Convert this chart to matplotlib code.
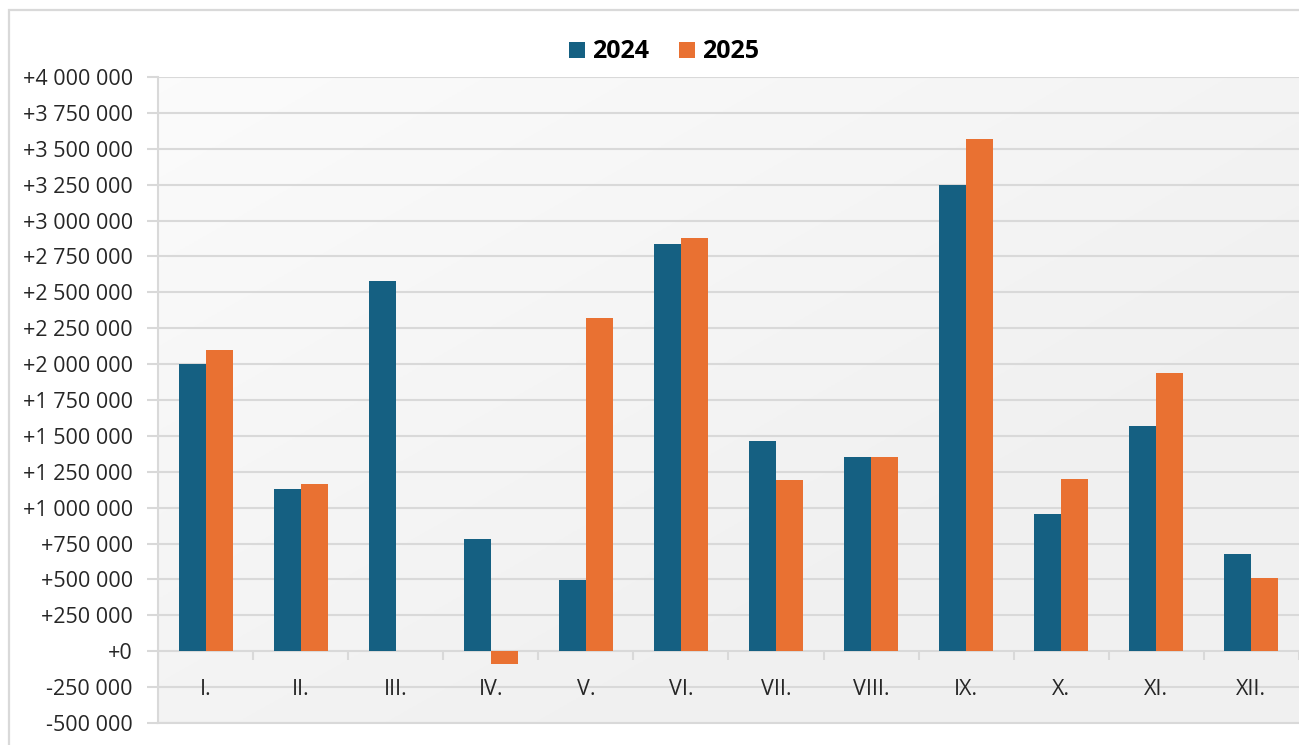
import matplotlib
matplotlib.use("Agg")
import matplotlib.pyplot as plt
import matplotlib.patches as mpatches
from matplotlib.ticker import FuncFormatter, MultipleLocator
import numpy as np

plt.rcParams['font.family'] = ['Open Sans', 'DejaVu Sans']

months = ["I.", "II.", "III.", "IV.", "V.", "VI.", "VII.", "VIII.", "IX.", "X.", "XI.", "XII."]
series_names = ["2024", "2025"]
values_2024 = [2000000, 1128000, 2577000, 780000, 494000, 2834000, 1462000, 1351000, 3245000, 954000, 1567000, 675000]
values_2025 = [2096000, 1163000, 0, -90000, 2319000, 2876000, 1191000, 1351000, 3565000, 1198000, 1936000, 508000]
colors = ["#156082", "#E97132"]

W, H = 1299, 745
fig = plt.figure(figsize=(W / 100, H / 100), dpi=100)
fig.patch.set_facecolor("white")

# outer chart border
fig.patches.append(mpatches.Rectangle((9 / W, -0.1), 1.2, 1 - 10 / H + 0.1, transform=fig.transFigure,
                                      fill=False, edgecolor="#d9d9d9", linewidth=1.6, zorder=0))

left, right, top, bottom = 158, 1299, 77, 723
ax = fig.add_axes([left / W, 1 - bottom / H, (right - left) / W, (bottom - top) / H])

# subtle gradient background
grad = np.linspace(0, 1, 256)
gx, gy = np.meshgrid(grad, grad)
g = 0.5 * gx + 0.5 * gy
img = np.empty((256, 256, 3))
c0 = np.array([0.985, 0.985, 0.985])
c1 = np.array([0.945, 0.945, 0.945])
for k in range(3):
    img[..., k] = c0[k] + (c1[k] - c0[k]) * np.clip(g * 1.5, 0, 1)
ax.imshow(img, extent=[0, 1, 0, 1], transform=ax.transAxes, aspect="auto", zorder=0, origin="upper")

x = np.arange(len(months))
bw = 0.284
ax.bar(x - bw / 2, values_2024, width=bw, color=colors[0], label=series_names[0], zorder=3)
ax.bar(x + bw / 2, values_2025, width=bw, color=colors[1], label=series_names[1], zorder=3)

ax.set_xlim(-0.5, len(months) - 0.5)
ax.set_ylim(-500000, 4000000)
ax.yaxis.set_major_locator(MultipleLocator(250000))


def fmt(v, pos):
    s = f"{abs(int(round(v))):,}".replace(",", " ")
    return ("+" if v >= 0 else "-") + s


ax.yaxis.set_major_formatter(FuncFormatter(fmt))
ax.grid(axis="y", color="#d9d9d9", linewidth=1.5, zorder=1)
ax.set_axisbelow(True)
ax.xaxis.set_zorder(1.5)
ax.tick_params(axis="y", length=8, width=1.5, color="#d9d9d9", pad=10, labelsize=15.5, labelcolor="#262626")

# category boundary ticks below zero line
bounds = np.arange(len(months) + 1) - 0.5
ax.vlines(bounds, -62000, 0, color="#d9d9d9", linewidth=1.5, zorder=2)

ax.set_xticks(x)
ax.set_xticklabels(months)
ax.tick_params(axis="x", length=0, pad=-32, labelsize=15.5, labelcolor="#262626")

for s in ["top", "right"]:
    ax.spines[s].set_visible(False)
ax.spines["left"].set_color("#d9d9d9")
ax.spines["left"].set_linewidth(1.5)
ax.spines["bottom"].set_color("#d9d9d9")
ax.spines["bottom"].set_linewidth(1.5)

leg = fig.legend(loc="center", bbox_to_anchor=(664 / W, 1 - 52 / H), ncol=2, frameon=False,
                 prop={"weight": "bold", "size": 18}, handlelength=0.62, handleheight=0.62,
                 handletextpad=0.3, columnspacing=1.2)

fig.savefig("out.png", dpi=100)
